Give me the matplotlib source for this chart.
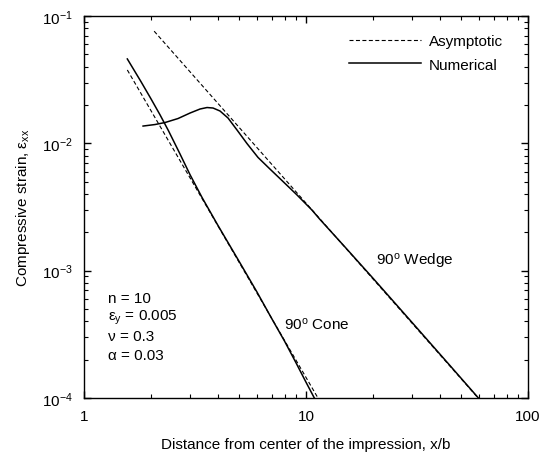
import matplotlib
matplotlib.use('Agg')
import matplotlib.pyplot as plt
from matplotlib.lines import Line2D

plt.rcParams['font.family'] = ['Liberation Sans', 'DejaVu Sans']
plt.rcParams['mathtext.fontset'] = 'custom'
plt.rcParams['mathtext.rm'] = 'Liberation Sans'
plt.rcParams['mathtext.it'] = 'Liberation Sans:italic'
plt.rcParams['axes.unicode_minus'] = False

# Asymptotic solutions (straight lines in log-log, end points)
asym_wedge_x = [2.07, 59.6]
asym_wedge_y = [0.076, 1.0e-4]
asym_cone_x = [1.567, 11.32]
asym_cone_y = [0.0377, 1.0e-4]

# Numerical results
num_wedge_x = [1.845, 2.088, 2.317, 2.651, 3.003, 3.331, 3.582, 3.812, 4.099, 4.454,
               4.890, 5.424, 6.078, 6.882, 7.798, 9.110, 10.64, 11.5, 15.0, 20.0,
               30.0, 45.0, 62.0]
num_wedge_y = [0.01367, 0.01405, 0.01457, 0.01566, 0.01730, 0.01860, 0.01911, 0.01894,
               0.01794, 0.01580, 0.01272, 0.00995, 0.00775, 0.00628, 0.00510, 0.00393,
               0.00299, 0.00255, 0.00153, 8.75e-4, 3.93e-4, 1.76e-4, 9.3e-5]

num_cone_x = [1.567, 1.8, 2.0, 2.2, 2.4, 2.7, 3.0, 3.4, 4.0, 5.0, 6.0, 7.0, 8.0, 9.0,
              10.0, 10.9, 11.5]
num_cone_y = [0.0460, 0.0308, 0.02246, 0.01674, 0.01258, 0.00832, 0.00569, 0.00376,
              0.002286, 0.001180, 6.84e-4, 4.22e-4, 2.8e-4, 1.9e-4, 1.33e-4, 1.0e-4, 8.4e-5]

params = ['n = 10', r'$\mathrm{ε}_{\mathrm{y}}$ = 0.005', 'ν = 0.3', 'α = 0.03']

fig = plt.figure(figsize=(5.41, 4.56), dpi=100)
ax = fig.add_axes([0.1553, 0.125, 0.8207, 0.8377])

dash = (0, (3.6, 2.2))
ax.plot(asym_wedge_x, asym_wedge_y, color='black', lw=0.8, linestyle=dash)
ax.plot(asym_cone_x, asym_cone_y, color='black', lw=0.8, linestyle=dash)
ax.plot(num_wedge_x, num_wedge_y, color='black', lw=1.1)
ax.plot(num_cone_x, num_cone_y, color='black', lw=1.1)

ax.set_xscale('log')
ax.set_yscale('log')
ax.set_xlim(1, 100)
ax.set_ylim(1e-4, 1e-1)

ax.set_xticks([1, 10, 100])
ax.set_xticklabels(['1', '10', '100'])

ax.tick_params(which='both', direction='in', top=True, right=True, labelsize=11)
ax.tick_params(which='major', length=5, width=1.0, pad=8)
ax.tick_params(which='minor', length=3, width=0.8)
for s in ax.spines.values():
    s.set_linewidth(1.0)

ax.set_xlabel('Distance from center of the impression, x/b', fontsize=11, labelpad=10)
ax.set_ylabel(r'Compressive strain, $\mathrm{ε}_{\mathrm{xx}}$', fontsize=11, labelpad=7)

# labels on the curves
ax.text(20.7, 1.21e-3, '90$^{\\mathrm{o}}$ Wedge', fontsize=11, va='center')
ax.text(7.96, 3.87e-4, '90$^{\\mathrm{o}}$ Cone', fontsize=11, va='center')

# parameter block
for i, t in enumerate(params):
    ax.text(0.054, 0.263 - i * 0.05, t, transform=ax.transAxes, fontsize=11, va='center')

handles = [Line2D([], [], color='black', lw=0.8, linestyle=dash),
           Line2D([], [], color='black', lw=1.1)]
ax.legend(handles, ['Asymptotic', 'Numerical'], loc='upper right',
          bbox_to_anchor=(0.957, 0.968), borderaxespad=0, frameon=False,
          fontsize=11, handlelength=4.7, handletextpad=0.5, labelspacing=0.6)

fig.savefig('out.png', dpi=100)
